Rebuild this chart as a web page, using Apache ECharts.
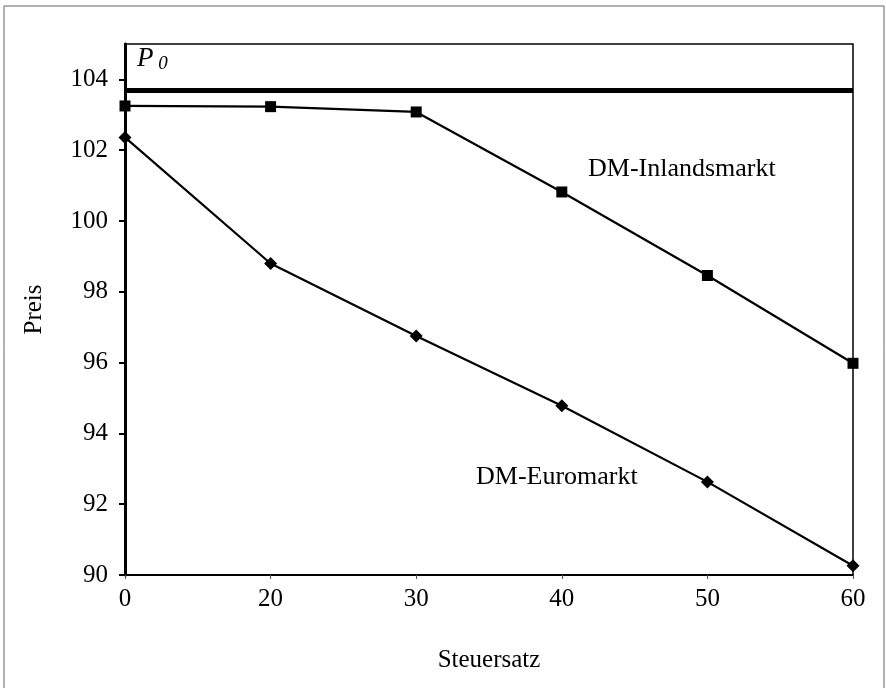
<!DOCTYPE html>
<html><head><meta charset="utf-8">
<script src="https://cdn.jsdelivr.net/npm/echarts@6/dist/echarts.min.js"></script>
<style>html,body{margin:0;padding:0;background:#fff}#c{width:886px;height:688px}</style>
</head><body><div id="c"></div>
<script>
const categories = ['0', '20', '30', '40', '50', '60'];
const inlandsmarkt = [103.25, 103.23, 103.08, 100.82, 98.46, 95.98];
const euromarkt = [102.36, 98.80, 96.75, 94.78, 92.63, 90.26];
const p0Value = 103.7;
const yTicks = [90, 92, 94, 96, 98, 100, 102, 104];

const FONT = 'Liberation Serif';
const chart = echarts.init(document.getElementById('c'));
chart.setOption({
  backgroundColor: '#fff',
  animation: false,
  grid: { left: 125, right: 33, top: 44, bottom: 113, show: true, borderColor: '#000', borderWidth: 1.5, containLabel: false },
  xAxis: {
    type: 'category', data: categories, boundaryGap: false,
    name: 'Steuersatz', nameLocation: 'middle', nameGap: 73,
    nameTextStyle: { fontFamily: FONT, fontSize: 25, color: '#000' },
    axisLine: { lineStyle: { color: '#000', width: 2 } },
    axisTick: { show: true, length: 4, lineStyle: { color: '#555', width: 1 } },
    axisLabel: { fontFamily: FONT, fontSize: 25, color: '#000', margin: 12 },
    splitLine: { show: false }
  },
  yAxis: {
    type: 'value', min: 90, max: 105, interval: 2,
    name: 'Preis', nameLocation: 'middle', nameGap: 78,
    nameTextStyle: { fontFamily: FONT, fontSize: 25, color: '#000' },
    axisLine: { show: true, lineStyle: { color: '#000', width: 3 } },
    axisTick: { show: true, length: 6, customValues: yTicks, lineStyle: { color: '#000', width: 2 } },
    axisLabel: { fontFamily: FONT, fontSize: 25, color: '#000', margin: 17, customValues: yTicks },
    splitLine: { show: false }
  },
  series: [
    {
      name: 'DM-Inlandsmarkt', type: 'line', data: inlandsmarkt,
      symbol: 'rect', symbolSize: 11, itemStyle: { color: '#000' },
      lineStyle: { color: '#000', width: 2.2 },
      markLine: {
        silent: true, symbol: 'none', label: { show: false },
        lineStyle: { color: '#000', width: 5, type: 'solid' },
        data: [{ yAxis: p0Value }]
      }
    },
    {
      name: 'DM-Euromarkt', type: 'line', data: euromarkt,
      symbol: 'diamond', symbolSize: 13, itemStyle: { color: '#000' },
      lineStyle: { color: '#000', width: 2.2 }
    }
  ],
  graphic: [
    { type: 'rect', shape: { x: 4, y: 6, width: 880, height: 690 }, style: { fill: 'none', stroke: '#666', lineWidth: 1 }, silent: true },
    { type: 'text', left: 588, top: 156, style: { text: 'DM-Inlandsmarkt', font: '26px "Liberation Serif"', fill: '#000' } },
    { type: 'text', left: 476, top: 464, style: { text: 'DM-Euromarkt', font: '26px "Liberation Serif"', fill: '#000' } },
    { type: 'text', left: 137, top: 45, style: {
        text: '{p|P}{s| 0}',
        rich: {
          p: { fontFamily: FONT, fontStyle: 'italic', fontSize: 27, fill: '#000', color: '#000' },
          s: { fontFamily: FONT, fontStyle: 'italic', fontSize: 19, fill: '#000', color: '#000', padding: [10, 0, 0, 0] }
        } } }
  ]
});
</script></body></html>
